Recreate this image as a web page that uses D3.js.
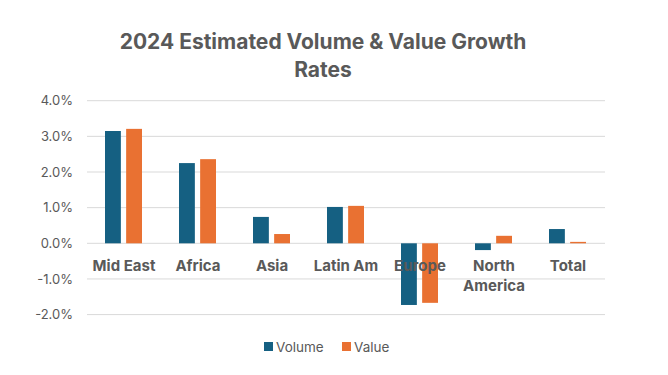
<!DOCTYPE html>
<html>
<head>
<meta charset="utf-8">
<script src="https://cdn.jsdelivr.net/npm/d3@7"></script>
<style>
    body { margin: 0; background: #fff; }
    svg text { font-family: Inter, "Open Sans", sans-serif; fill: #595959; }
</style>
</head>
<body>
<div id="chart"></div>
<script>
const categories = ['Mid East', 'Africa', 'Asia', 'Latin Am', 'Europe', 'North America', 'Total'];
const seriesNames = ['Volume', 'Value'];
const volumeValues = [3.15, 2.25, 0.74, 1.02, -1.73, -0.19, 0.40];
const valueValues = [3.21, 2.36, 0.26, 1.05, -1.67, 0.21, 0.04];
const tickValues = [4, 3, 2, 1, 0, -1, -2];
const seriesColors = ['#156082', '#E97132'];

const width = 668, height = 375;
const plotLeft = 87, plotRight = 605;

const svg = d3.select('#chart').append('svg')
    .attr('width', width)
    .attr('height', height);

const rows = categories.map((name, i) => ({
    name: name,
    values: [volumeValues[i], valueValues[i]]
}));

const x0 = d3.scaleBand().domain(categories).range([plotLeft, plotRight]);
const x1 = d3.scaleBand().domain(seriesNames).range([18, 55]).paddingInner(0.25);
const y = d3.scaleLinear().domain([-2, 4]).range([314.6, 100.7]);

// title
const title = svg.append('text')
    .attr('text-anchor', 'middle')
    .style('font-size', '21px')
    .style('font-weight', 'bold');
title.append('tspan').attr('x', 323).attr('y', 49).text('2024 Estimated Volume & Value Growth');
title.append('tspan').attr('x', 323).attr('y', 77).text('Rates');

// gridlines
svg.append('g')
    .selectAll('line')
    .data(tickValues)
    .enter()
    .append('line')
        .attr('x1', plotLeft)
        .attr('x2', plotRight)
        .attr('y1', d => y(d))
        .attr('y2', d => y(d))
        .attr('stroke', '#d9d9d9')
        .attr('stroke-width', 1);

// y axis labels
const yAxis = d3.axisLeft(y)
    .tickValues(tickValues)
    .tickSize(0)
    .tickPadding(14)
    .tickFormat(d => d.toFixed(1) + '%');
svg.append('g')
    .attr('transform', `translate(${ plotLeft }, 0)`)
    .call(yAxis)
    .call(g => g.select('.domain').remove())
    .call(g => g.selectAll('text')
        .style('font-size', '13px')
        .style('font-family', 'Inter, "Open Sans", sans-serif')
        .attr('fill', '#595959'));

// bars
svg.append('g')
    .selectAll('g')
    .data(rows)
    .enter()
    .append('g')
        .attr('transform', d => `translate(${ x0(d.name) }, 0)`)
    .selectAll('rect')
    .data(d => d.values.map((v, i) => ({ key: seriesNames[i], value: v, idx: i })))
    .enter()
    .append('rect')
        .attr('x', d => x1(d.key))
        .attr('width', x1.bandwidth())
        .attr('y', d => y(Math.max(0, d.value)))
        .attr('height', d => Math.abs(y(d.value) - y(0)))
        .attr('fill', d => seriesColors[d.idx]);

// category labels
const catLabels = svg.append('g')
    .selectAll('text')
    .data(categories)
    .enter()
    .append('text')
        .attr('text-anchor', 'middle')
        .style('font-size', '15px')
        .style('font-weight', 'bold');
catLabels.each(function(d) {
    const cx = x0(d) + x0.bandwidth() / 2;
    const words = d === 'North America' ? ['North', 'America'] : [d];
    words.forEach((w, i) => {
        d3.select(this).append('tspan')
            .attr('x', cx)
            .attr('y', 271 + i * 20)
            .text(w);
    });
});

// legend
const legend = svg.append('g')
    .selectAll('g')
    .data(seriesNames)
    .enter()
    .append('g')
        .attr('transform', (d, i) => `translate(${ 264 + i * 78 }, 342)`);
legend.append('rect')
    .attr('width', 9)
    .attr('height', 9)
    .attr('fill', (d, i) => seriesColors[i]);
legend.append('text')
    .attr('x', 12)
    .attr('y', 9.5)
    .style('font-size', '13.5px')
    .text(d => d);
</script>
</body>
</html>
